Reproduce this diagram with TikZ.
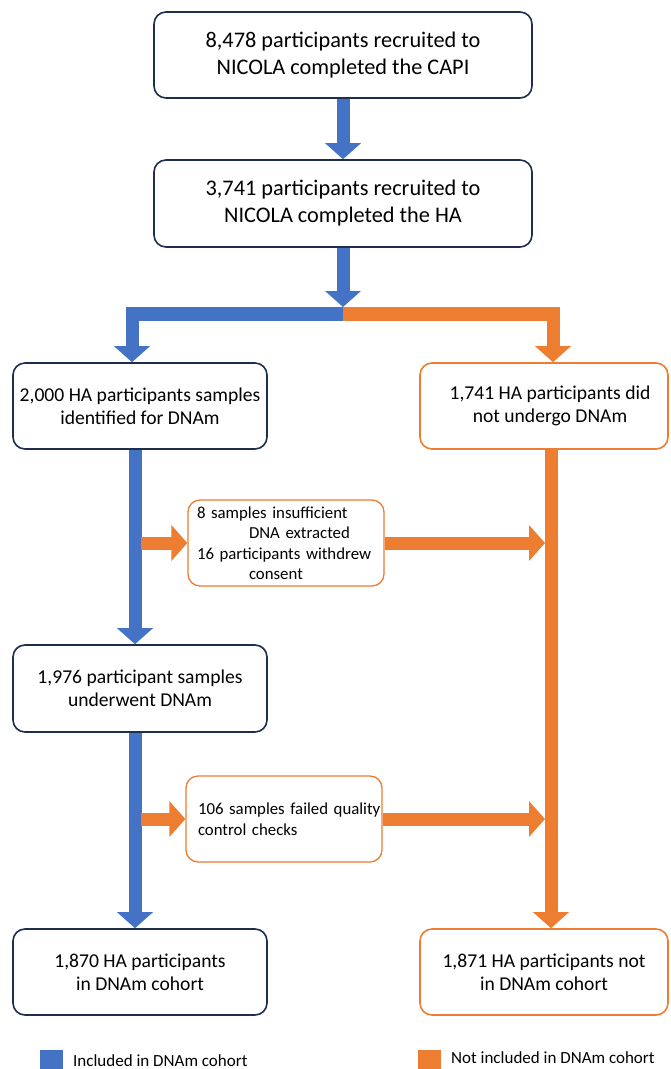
\documentclass[tikz,border=0pt]{standalone}
\usepackage{fontspec}
\setmainfont{Carlito}
\usetikzlibrary{arrows.meta}
\definecolor{cblue}{HTML}{4472C4}
\definecolor{corange}{HTML}{ED7D31}
\definecolor{cnavy}{HTML}{1F2D4E}
\begin{document}
\begin{tikzpicture}[x=1pt,y=-1pt,
  box/.style={draw=cnavy, line width=1.6pt, rounded corners=12pt, fill=white, align=center, inner sep=0pt},
  obox/.style={box, draw=corange},
  bigtxt/.style={font=\fontsize{22.3}{27}\selectfont},
  midtxt/.style={font=\fontsize{19.6}{23}\selectfont},
  smalltxt/.style={font=\fontsize{16.8}{20.5}\selectfont},
  barrow/.style={draw=cblue, line width=13pt, -{Triangle[width=35pt,length=16pt]}},
  oarrow/.style={draw=corange, line width=13pt, -{Triangle[width=35pt,length=16pt]}},
  legtxt/.style={font=\fontsize{17}{19}\selectfont, anchor=west, inner sep=0pt}
]
\useasboundingbox (0,0) rectangle (670,1069);
\fill[white] (0,0) rectangle (670,1069);

% main boxes
\node[box, bigtxt, minimum width=378pt, minimum height=86pt] (b1) at (343,55) {8,478 participants recruited to\\NICOLA completed the CAPI};
\node[box, bigtxt, minimum width=378pt, minimum height=87pt] (b2) at (343,203.5) {3,741 participants recruited to\\NICOLA completed the HA};
\node[box, midtxt, minimum width=254pt, minimum height=86pt] (b3) at (140,406) {2,000 HA participants samples\\identified for DNAm};
\node[obox, midtxt, minimum width=248pt, minimum height=86pt] (b4) at (544,406) {\hspace*{12pt}1,741 HA participants did\\\hspace*{12pt}not undergo DNAm};
\node[box, midtxt, minimum width=254pt, minimum height=87pt] (b5) at (140,688.5) {1,976 participant samples\\underwent DNAm};
\node[box, midtxt, minimum width=254pt, minimum height=86pt] (b6) at (140,972) {1,870 HA participants\\in DNAm cohort};
\node[obox, midtxt, minimum width=248pt, minimum height=86pt] (b7) at (544,972) {1,871 HA participants not\\in DNAm cohort};

% side boxes
\node[obox, smalltxt, line width=1.3pt, text width=178pt, align=left, inner xsep=9pt, minimum height=86pt] (sa) at (286,543)
  {\mbox{8 samples insufficient}\\\hspace*{52pt}\mbox{DNA extracted}\\\mbox{16 participants withdrew}\\\hspace*{52pt}consent};
\node[obox, smalltxt, line width=1.3pt, text width=178pt, align=left, inner xsep=9pt, minimum height=86pt] (sb) at (284,819)
  {\hspace*{3pt}\mbox{106 samples failed quality}\\\hspace*{3pt}\mbox{control checks}};

% helper coordinates
\coordinate (jt) at (343,307);
\coordinate (jl) at (126,314);
\coordinate (jm) at (343,314);
\coordinate (jr) at (560,314);
\coordinate (bl) at (132,314);
\coordinate (orr) at (553,314);
\coordinate (bx) at (135,0);
\coordinate (ox) at (551,0);
\coordinate (s1) at (141,543);
\coordinate (e1) at (545,543);
\coordinate (s2) at (141,819);
\coordinate (e2) at (545,819);

% connectors
\draw[barrow] (b1.south) -- (b2.north);
\draw[barrow] (b2.south) -- (jt);
\draw[draw=cblue, line width=14pt] (jl) -- (jm);
\draw[draw=corange, line width=14pt] (jm) -- (jr);
\draw[barrow] (bl) -- (bl |- b3.north);
\draw[oarrow] (orr) -- (orr |- b4.north);
\draw[barrow] (b3.south -| bx) -- (b5.north -| bx);
\draw[barrow] (b5.south -| bx) -- (b6.north -| bx);
\draw[oarrow] (b4.south -| ox) -- (b7.north -| ox);
\draw[oarrow] (s1) -- (sa.west);
\draw[oarrow] (sa.east) -- (e1);
\draw[oarrow] (s2) -- (sb.west);
\draw[oarrow] (sb.east) -- (e2);

% legend
\fill[cblue] (40,1050) rectangle (63,1069);
\node[legtxt] (lg1) at (73,1061) {Included in DNAm cohort};
\fill[corange] (418,1050) rectangle (441,1069);
\node[legtxt] (lg2) at (451,1058) {Not included in DNAm cohort};
\end{tikzpicture}
\end{document}
